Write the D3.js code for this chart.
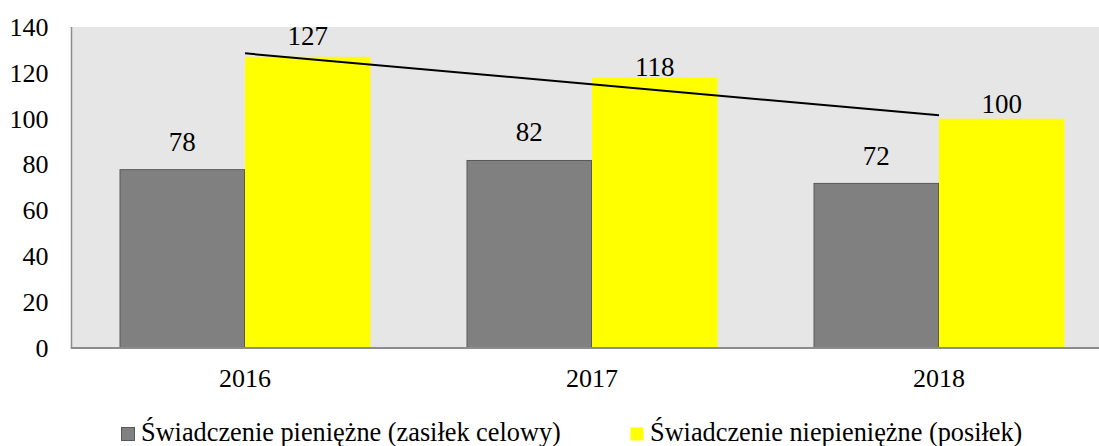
<!DOCTYPE html>
<html>
<head>
<meta charset="utf-8">
<script src="https://cdn.jsdelivr.net/npm/d3@7"></script>
</head>
<body style="margin:0">
<svg id="chart" width="1099" height="446" style="display:block"></svg>
<script>
// Chart data
const years = ["2016", "2017", "2018"];
const seriesNames = [
  "Świadczenie pieniężne (zasiłek celowy)",
  "Świadczenie niepieniężne (posiłek)"
];
const cashBenefit = [78, 82, 72];
const mealBenefit = [127, 118, 100];
const yTicks = [0, 20, 40, 60, 80, 100, 120, 140];

const FONT = "Liberation Serif";
const svg = d3.select("#chart");
const W = 1099, H = 446;

// Plot frame
const plot = { left: 71.5, top: 27, bottom: 348, step: 347 };

const x = d3.scaleBand()
  .domain(years)
  .range([plot.left, plot.left + plot.step * years.length])
  .paddingInner(0).paddingOuter(0);

const xInner = d3.scaleBand()
  .domain([0, 1])
  .range([0, x.bandwidth()])
  .paddingInner(0).paddingOuter(0.3825);

const y = d3.scaleLinear().domain([0, 140]).range([plot.bottom, plot.top]);

const colors = ["#808080", "#ffff00"];
const strokes = ["#595959", "none"];

// Plot background
svg.append("rect")
  .attr("x", plot.left).attr("y", plot.top)
  .attr("width", W - plot.left).attr("height", plot.bottom - plot.top)
  .attr("fill", "#e6e6e6");

// Bars
const series = [cashBenefit, mealBenefit];
series.forEach((vals, si) => {
  svg.append("g").selectAll("rect")
    .data(vals)
    .join("rect")
    .attr("x", (d, i) => x(years[i]) + xInner(si) + (si === 0 ? 0.5 : 0))
    .attr("y", d => y(d) + (si === 0 ? 0.5 : 0))
    .attr("width", xInner.bandwidth() - (si === 0 ? 1 : 0))
    .attr("height", d => y(0) - y(d) - (si === 0 ? 0.5 : 0))
    .attr("fill", colors[si])
    .attr("stroke", strokes[si])
    .attr("stroke-width", 1);
});

// Linear trend of meal benefit
const n = mealBenefit.length;
const xs = d3.range(n);
const mx = d3.mean(xs), my = d3.mean(mealBenefit);
const slope = d3.sum(xs, (v, i) => (v - mx) * (mealBenefit[i] - my)) /
              d3.sum(xs, v => (v - mx) * (v - mx));
const intercept = my - slope * mx;
const cx = yr => x(yr) + x.bandwidth() / 2;
svg.append("line")
  .attr("x1", cx(years[0])).attr("y1", y(intercept))
  .attr("x2", cx(years[n - 1])).attr("y2", y(intercept + slope * (n - 1)))
  .attr("stroke", "#000").attr("stroke-width", 2);

// Axes
const yAxis = d3.axisLeft(y).tickValues(yTicks).tickSize(0).tickPadding(23);
const gy = svg.append("g").attr("transform", `translate(${plot.left},0)`).call(yAxis)
  .attr("font-family", FONT).attr("font-size", 26);
gy.select(".domain").remove();
gy.selectAll("text").attr("fill", "#000");

svg.append("line")
  .attr("x1", plot.left).attr("x2", plot.left)
  .attr("y1", plot.top).attr("y2", plot.bottom)
  .attr("stroke", "#8c8c8c").attr("stroke-width", 1.5);

const xAxis = d3.axisBottom(x).tickSize(0).tickPadding(21);
const gx = svg.append("g").attr("transform", `translate(0,${plot.bottom})`).call(xAxis)
  .attr("font-family", FONT).attr("font-size", 26);
gx.select(".domain").remove();
gx.selectAll("text").attr("fill", "#000");

svg.append("line")
  .attr("x1", plot.left - 0.75).attr("x2", W)
  .attr("y1", plot.bottom).attr("y2", plot.bottom)
  .attr("stroke", "#8c8c8c").attr("stroke-width", 2);

// Value labels (distance in px between label baseline and bar top)
const labelGaps = [[18.5, 19, 18], [12, 1.5, 5.5]];
series.forEach((vals, si) => {
  svg.append("g").attr("font-family", FONT).attr("font-size", 27)
    .selectAll("text")
    .data(vals)
    .join("text")
    .attr("x", (d, i) => x(years[i]) + xInner(si) + xInner.bandwidth() / 2)
    .attr("y", (d, i) => y(d) - labelGaps[si][i])
    .attr("text-anchor", "middle")
    .attr("fill", "#000")
    .text(d => d);
});

// Legend
const legendX = [121, 630];
const legend = svg.append("g").attr("font-family", FONT).attr("font-size", 26.3);
seriesNames.forEach((name, si) => {
  legend.append("rect")
    .attr("x", legendX[si] + 0.5).attr("y", 427.5)
    .attr("width", 13).attr("height", 13)
    .attr("fill", colors[si])
    .attr("stroke", strokes[si]);
  legend.append("text")
    .attr("x", legendX[si] + 20).attr("y", 441)
    .attr("fill", "#000")
    .text(name);
});
</script>
</body>
</html>
